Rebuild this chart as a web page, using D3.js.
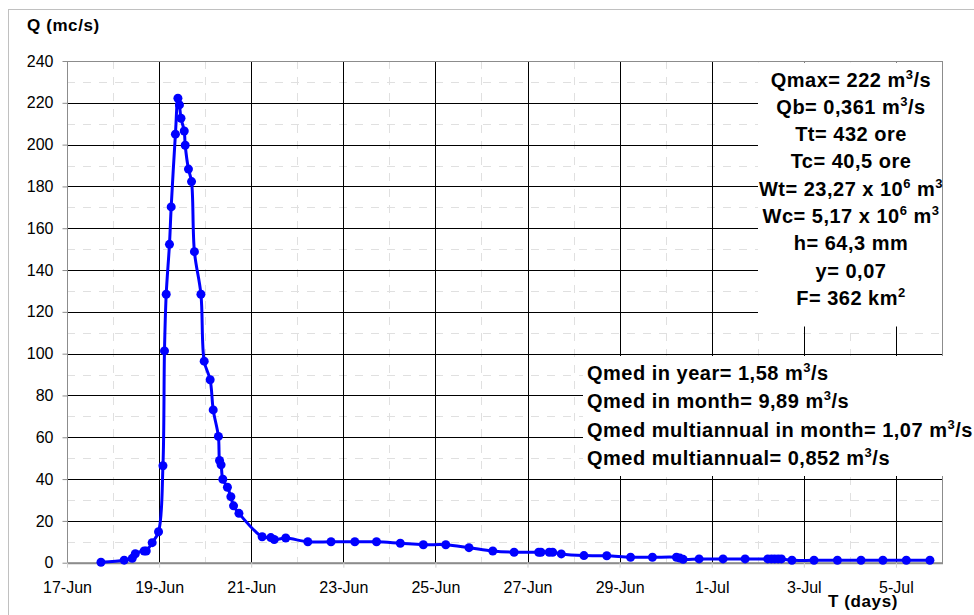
<!DOCTYPE html>
<html>
<head>
<meta charset="utf-8">
<script src="https://cdnjs.cloudflare.com/ajax/libs/d3/7.8.5/d3.min.js"></script>
<style>
    body { margin: 0; background: #fff; }
    text { font-family: "Liberation Sans", Arial, sans-serif; fill: #000; }
    .tickLabel { font-size: 16px; }
    .axisTitle { font-size: 17px; font-weight: bold; letter-spacing: 0.6px; }
    .boxText { font-size: 20px; font-weight: bold; letter-spacing: 0.5px; }
</style>
</head>
<body>
<div id="chart"></div>
<script>
/** ********************************
 *           Global Constants
 ********************************** */

// Hours since 17-Jun 00:00 for each reading
const hours = [
    17.7, 29.8, 34.0, 35.6, 40.2, 41.3, 44.4, 47.7, 50.0, 50.8,
    51.7, 53.4, 54.3, 56.5, 57.8, 58.6, 59.4, 61.1, 61.6, 63.3,
    64.9, 66.4, 69.8, 71.5, 74.6, 76.2, 78.9, 79.5, 80.3, 81.2,
    83.6, 85.4, 86.8, 89.6, 101.7, 106.2, 108.0, 114.0, 125.5, 137.6,
    150.0, 161.3, 173.7, 185.7, 197.4, 209.5, 221.9, 233.0, 245.8, 247.0,
    251.3, 253.1, 257.6, 269.4, 281.3, 293.7, 305.1, 317.6, 319.4, 321.1,
    329.4, 341.9, 353.4, 365.2, 367.1, 368.8, 370.6, 372.3, 377.8, 389.3,
    401.5, 413.8, 425.2, 437.4, 449.7
];

// Discharge Q (m3/s)
const flows = [
    0.2, 1.2, 2.1, 4.3, 5.6, 5.6, 9.6, 14.8, 46.4, 101.3,
    128.4, 152.3, 170.2, 205.0, 222.2, 219.0, 212.6, 206.5, 199.7, 188.3,
    182.3, 148.8, 128.4, 96.4, 87.5, 73.1, 60.4, 48.9, 46.8, 39.9,
    36.1, 31.6, 27.2, 23.6, 12.4, 12.0, 11.1, 11.8, 10.0, 10.0,
    10.0, 10.0, 9.3, 8.6, 8.6, 7.2, 5.6, 5.0, 5.0, 5.0,
    5.0, 5.0, 4.2, 3.4, 3.3, 2.6, 2.6, 2.6, 2.2, 1.6,
    1.8, 1.8, 1.8, 1.8, 1.8, 1.8, 1.8, 1.8, 1.15, 1.15,
    1.15, 1.15, 1.15, 1.15, 1.15
];

// Y ticks
const yTicks = [0, 20, 40, 60, 80, 100, 120, 140, 160, 180, 200, 220, 240];
const yMinor = [10, 30, 50, 70, 90, 110, 130, 150, 170, 190, 210, 230];

// Parameter boxes: [text, superscript, text, superscript, ...]
const paramLines = [
    ["Qmax= 222 m", "3", "/s"],
    ["Qb= 0,361 m", "3", "/s"],
    ["Tt= 432 ore"],
    ["Tc= 40,5 ore"],
    ["Wt= 23,27 x 10", "6", " m", "3"],
    ["Wc= 5,17 x 10", "6", " m", "3"],
    ["h= 64,3 mm"],
    ["y= 0,07"],
    ["F= 362 km", "2"]
];
const meanLines = [
    ["Qmed in year= 1,58 m", "3", "/s"],
    ["Qmed in month= 9,89 m", "3", "/s"],
    ["Qmed multiannual in month= 1,07 m", "3", "/s"],
    ["Qmed multiannual= 0,852 m", "3", "/s"]
];

// ============
//   Plot box
// ============

const svgWidth = 974;
const svgHeight = 615;
const plot = { left: 67, top: 61, right: 942, bottom: 562.7 };

const startDate = new Date(2005, 5, 17);
const endDate = new Date(2005, 6, 6);

/** ********************************
 *            Main part
 ********************************** */

var svg = d3.select("#chart")
    .append("svg")
        .attr("width", svgWidth)
        .attr("height", svgHeight);

// Outer chart frame
svg.append("rect")
    .attr("x", 8.5).attr("y", 9.5)
    .attr("width", 1000).attr("height", 1000)
    .attr("fill", "none")
    .attr("stroke", "#c0c0c0");

var xScale = d3.scaleTime()
    .domain([startDate, endDate])
    .range([plot.left, plot.right]);

var yScale = d3.scaleLinear()
    .domain([0, 240])
    .range([plot.bottom, plot.top]);

const majorDays = d3.timeDay.every(2).range(startDate, d3.timeDay.offset(endDate, 1));
const allDays = d3.timeDay.range(startDate, endDate);
const minorDays = allDays.filter(d => !majorDays.some(m => +m === +d));

var grid = svg.append("g");

// Minor dashed grid
grid.selectAll(".hMinor")
    .data(yMinor)
    .join("line")
        .attr("x1", plot.left).attr("x2", plot.right)
        .attr("y1", d => Math.round(yScale(d)) + 0.5)
        .attr("y2", d => Math.round(yScale(d)) + 0.5)
        .attr("stroke", "#e0e0e0")
        .attr("stroke-dasharray", "8,8");

grid.selectAll(".vMinor")
    .data(minorDays.filter(d => d > startDate))
    .join("line")
        .attr("x1", d => Math.round(xScale(d)) + 0.5)
        .attr("x2", d => Math.round(xScale(d)) + 0.5)
        .attr("y1", plot.top).attr("y2", plot.bottom)
        .attr("stroke", "#e0e0e0")
        .attr("stroke-dasharray", "8,8");

// Major grid
grid.selectAll(".hMajor")
    .data(yTicks.filter(d => d > 0 && d < 240))
    .join("line")
        .attr("x1", plot.left).attr("x2", plot.right)
        .attr("y1", d => Math.round(yScale(d)) + 0.5)
        .attr("y2", d => Math.round(yScale(d)) + 0.5)
        .attr("stroke", "#000");

grid.selectAll(".vMajor")
    .data(majorDays.filter(d => d > startDate && d < endDate))
    .join("line")
        .attr("x1", d => Math.round(xScale(d)) + 0.5)
        .attr("x2", d => Math.round(xScale(d)) + 0.5)
        .attr("y1", plot.top).attr("y2", plot.bottom)
        .attr("stroke", "#000");

// Plot border
svg.append("rect")
    .attr("x", plot.left + 0.5).attr("y", plot.top + 0.5)
    .attr("width", plot.right - plot.left).attr("height", plot.bottom - plot.top)
    .attr("fill", "none")
    .attr("stroke", "#8c8c8c");
svg.append("line")
    .attr("x1", plot.left).attr("x2", plot.right + 1)
    .attr("y1", plot.bottom + 0.5).attr("y2", plot.bottom + 0.5)
    .attr("stroke", "#8c8c8c").attr("stroke-width", 2);

// Y axis
var yAxis = d3.axisLeft(yScale)
    .tickValues(yTicks)
    .tickSize(5)
    .tickPadding(9);
svg.append("g")
    .attr("transform", `translate(${plot.left + 0.5}, 0)`)
    .call(yAxis)
    .call(g => g.select(".domain").remove())
    .call(g => g.selectAll(".tick line").attr("stroke", "#8c8c8c"))
    .call(g => g.selectAll(".tick text")
        .attr("class", "tickLabel")
        .attr("font-family", null).attr("font-size", null));

// X axis
var xAxis = d3.axisBottom(xScale)
    .tickValues(majorDays.filter(d => d < endDate))
    .tickFormat(d3.timeFormat("%-d-%b"))
    .tickSize(5)
    .tickPadding(14);
svg.append("g")
    .attr("transform", `translate(0, ${plot.bottom})`)
    .call(xAxis)
    .call(g => g.select(".domain").remove())
    .call(g => g.selectAll(".tick line").attr("stroke", "#d0d0d0"))
    .call(g => g.selectAll(".tick text")
        .attr("class", "tickLabel")
        .attr("font-family", null).attr("font-size", null));

// Axis titles
svg.append("text")
    .attr("class", "axisTitle")
    .attr("x", 27).attr("y", 31)
    .text("Q (mc/s)");

svg.append("text")
    .attr("class", "axisTitle")
    .attr("x", 828).attr("y", 607)
    .text("T (days)");

// Hydrograph
const table = hours.map((h, i) => ({
    date: new Date(startDate.getTime() + h * 3600e3),
    q: flows[i]
}));

var line = d3.line()
    .x(d => xScale(d.date))
    .y(d => yScale(d.q))
    .curve(d3.curveCatmullRom.alpha(0.5));

svg.append("path")
    .datum(table)
    .attr("d", line)
    .attr("fill", "none")
    .attr("stroke", "#0000ff")
    .attr("stroke-width", 3);

svg.append("g")
    .selectAll("circle")
    .data(table)
    .join("circle")
        .attr("cx", d => xScale(d.date))
        .attr("cy", d => yScale(d.q))
        .attr("r", 4.5)
        .attr("fill", "#0000ff");

/**
 * Write lines with superscripts into a text element
 * @param {Object} g - d3 selection of a text element
 * @param {Array} parts - alternating normal and superscript strings
 */
function writeParts(g, parts) {
    parts.forEach((p, i) => {
        let sup = i % 2 === 1;
        g.append("tspan")
            .attr("dy", sup ? -8 : (i > 0 ? 8 : 0))
            .attr("font-size", sup ? "13px" : null)
            .text(p);
    });
}

// Parameter box (upper right)
svg.append("rect")
    .attr("x", 758).attr("y", plot.top + 1.5)
    .attr("width", plot.right - 758).attr("height", 325 - plot.top)
    .attr("fill", "#fff");

paramLines.forEach((parts, i) => {
    let t = svg.append("text")
        .attr("class", "boxText")
        .attr("x", 851)
        .attr("y", 86.5 + i * 27.3)
        .attr("text-anchor", "middle");
    writeParts(t, parts);
});

// Mean discharge box
svg.append("rect")
    .attr("x", 583).attr("y", 356)
    .attr("width", 400).attr("height", 120)
    .attr("fill", "#fff");

meanLines.forEach((parts, i) => {
    let t = svg.append("text")
        .attr("class", "boxText")
        .attr("x", 587)
        .attr("y", 379.5 + i * 28.5);
    writeParts(t, parts);
});
</script>
</body>
</html>
